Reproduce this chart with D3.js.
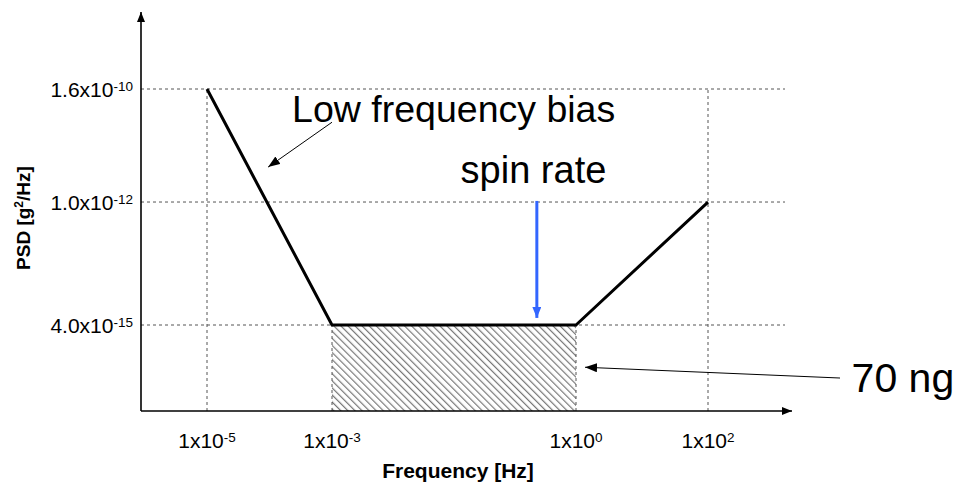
<!DOCTYPE html>
<html>
<head>
<meta charset="utf-8">
<script src="https://cdn.jsdelivr.net/npm/d3@7"></script>
<style>
  body { margin: 0; background: #fff; }
  text { font-family: "Liberation Sans", Arial, sans-serif; }
</style>
</head>
<body>
<script>
// axis ticks
var freqTicks = [1e-5, 1e-3, 1, 100];
var freqExp = ["-5", "-3", "0", "2"];
var psdTicks = [1.6e-10, 1e-12, 4e-15];
var psdMant = ["1.6", "1.0", "4.0"];
var psdExp = ["-10", "-12", "-15"];

// noise model curve
var noiseFreq = [1e-5, 1e-3, 1, 100];
var noisePsd = [1.6e-10, 4e-15, 4e-15, 1e-12];

// how high each vertical grid line goes
var gridTop = [1.6e-10, 4e-15, 4e-15, 1.6e-10];

// hatched band (70 ng)
var bandFreq = [1e-3, 1];
var bandPsd = 4e-15;

// annotations [freq, psd]
var biasText = [2.3e-4, 3.6e-11];
var biasArrow = [[1e-3, 3.6e-11], [9.5e-5, 4.8e-12]];
var spinText = [0.3, 2.35e-12];
var spinArrow = [[0.33, 1.05e-12], [0.33, 5.5e-15]];
var ngText = [1.5e4, 2.0e-16];
var ngArrow = [[1e4, 3.7e-16], [1.37, 6e-16]];

var width = 959;
var height = 485;
var axisX = 141, axisY = 411, axisTop = 12, axisRight = 792, gridRight = 785;

var svg = d3.select("body").append("svg")
    .attr("width", width)
    .attr("height", height);

// schematic frequency axis, not evenly spaced per decade
var x = d3.scaleLog().domain(freqTicks).range([207, 332, 576, 708]);
var y = d3.scaleLog().domain([4e-15, 1.6e-10]).range([325, 89]);

var defs = svg.append("defs");

function marker(id, color, w, h) {
    defs.append("marker")
        .attr("id", id)
        .attr("viewBox", "0 0 " + w + " " + h)
        .attr("refX", w).attr("refY", h / 2)
        .attr("markerWidth", w).attr("markerHeight", h)
        .attr("markerUnits", "userSpaceOnUse")
        .attr("orient", "auto")
        .append("path")
        .attr("d", "M0,0L" + w + "," + (h / 2) + "L0," + h + "Z")
        .attr("fill", color);
}
marker("axHead", "#000", 10, 8);
marker("thinHead", "#000", 12, 9);
marker("blueHead", "#3366ff", 11, 9);

var hatch = defs.append("pattern")
    .attr("id", "hatch")
    .attr("patternUnits", "userSpaceOnUse")
    .attr("width", 5).attr("height", 5)
    .attr("patternTransform", "rotate(-45)");
hatch.append("line")
    .attr("x1", 0).attr("y1", 0).attr("x2", 0).attr("y2", 5)
    .attr("stroke", "#777").attr("stroke-width", 2.4);

// hatched band
svg.append("rect")
    .attr("x", x(bandFreq[0]))
    .attr("y", y(bandPsd))
    .attr("width", x(bandFreq[1]) - x(bandFreq[0]))
    .attr("height", axisY - y(bandPsd))
    .attr("fill", "url(#hatch)");

// grid
svg.selectAll(".hgrid")
    .data(psdTicks)
    .enter().append("line")
    .attr("x1", axisX).attr("x2", gridRight)
    .attr("y1", d => y(d)).attr("y2", d => y(d))
    .attr("stroke", "#555").attr("stroke-width", 1)
    .attr("stroke-dasharray", "3,3");

svg.selectAll(".vgrid")
    .data(freqTicks)
    .enter().append("line")
    .attr("x1", d => x(d)).attr("x2", d => x(d))
    .attr("y1", axisY).attr("y2", (d, i) => y(gridTop[i]))
    .attr("stroke", "#555").attr("stroke-width", 1)
    .attr("stroke-dasharray", "3,3");

// axes
svg.append("line")
    .attr("x1", axisX).attr("y1", axisY).attr("x2", axisX).attr("y2", axisTop)
    .attr("stroke", "#000").attr("stroke-width", 1.6)
    .attr("marker-end", "url(#axHead)");
svg.append("line")
    .attr("x1", axisX).attr("y1", axisY).attr("x2", axisRight).attr("y2", axisY)
    .attr("stroke", "#000").attr("stroke-width", 1.6)
    .attr("marker-end", "url(#axHead)");

// tick labels
var yl = svg.selectAll(".ylab")
    .data(psdTicks)
    .enter().append("text")
    .attr("x", 133)
    .attr("y", d => y(d) + 7.5)
    .attr("text-anchor", "end")
    .attr("font-size", 21);
yl.append("tspan").text((d, i) => psdMant[i] + "x10");
yl.append("tspan").attr("dy", -6).attr("font-size", 13.5).text((d, i) => psdExp[i]);

var xl = svg.selectAll(".xlab")
    .data(freqTicks)
    .enter().append("text")
    .attr("x", d => x(d))
    .attr("y", 448)
    .attr("text-anchor", "middle")
    .attr("font-size", 21);
xl.append("tspan").text("1x10");
xl.append("tspan").attr("dy", -6).attr("font-size", 13.5).text((d, i) => freqExp[i]);

// axis titles
svg.append("text")
    .attr("x", 458).attr("y", 478)
    .attr("text-anchor", "middle")
    .attr("font-size", 21).attr("font-weight", "bold")
    .text("Frequency [Hz]");

var yt = svg.append("text")
    .attr("transform", "translate(30,218) rotate(-90)")
    .attr("text-anchor", "middle")
    .attr("font-size", 19).attr("font-weight", "bold");
yt.append("tspan").text("PSD [g");
yt.append("tspan").attr("dy", -7).attr("font-size", 12).text("2");
yt.append("tspan").attr("dy", 7).text("/Hz]");

// noise curve
var line = d3.line()
    .x(d => x(d[0]))
    .y(d => y(d[1]));

svg.append("path")
    .datum(noiseFreq.map((f, i) => [f, noisePsd[i]]))
    .attr("fill", "none")
    .attr("stroke", "#000")
    .attr("stroke-width", 3)
    .attr("stroke-linejoin", "round")
    .attr("d", line);

// annotations
svg.append("path")
    .datum(biasArrow)
    .attr("fill", "none").attr("stroke", "#000").attr("stroke-width", 1)
    .attr("marker-end", "url(#thinHead)")
    .attr("d", line);
svg.append("text")
    .attr("x", x(biasText[0])).attr("y", y(biasText[1]))
    .attr("font-size", 37.5)
    .text("Low frequency bias");

svg.append("text")
    .attr("x", x(spinText[0])).attr("y", y(spinText[1]))
    .attr("text-anchor", "middle")
    .attr("font-size", 38)
    .text("spin rate");
svg.append("path")
    .datum(spinArrow)
    .attr("fill", "none").attr("stroke", "#3366ff").attr("stroke-width", 3)
    .attr("marker-end", "url(#blueHead)")
    .attr("d", line);

svg.append("path")
    .datum(ngArrow)
    .attr("fill", "none").attr("stroke", "#000").attr("stroke-width", 1)
    .attr("marker-end", "url(#thinHead)")
    .attr("d", line);
svg.append("text")
    .attr("x", x(ngText[0])).attr("y", y(ngText[1]))
    .attr("font-size", 41)
    .text("70 ng");
</script>
</body>
</html>
